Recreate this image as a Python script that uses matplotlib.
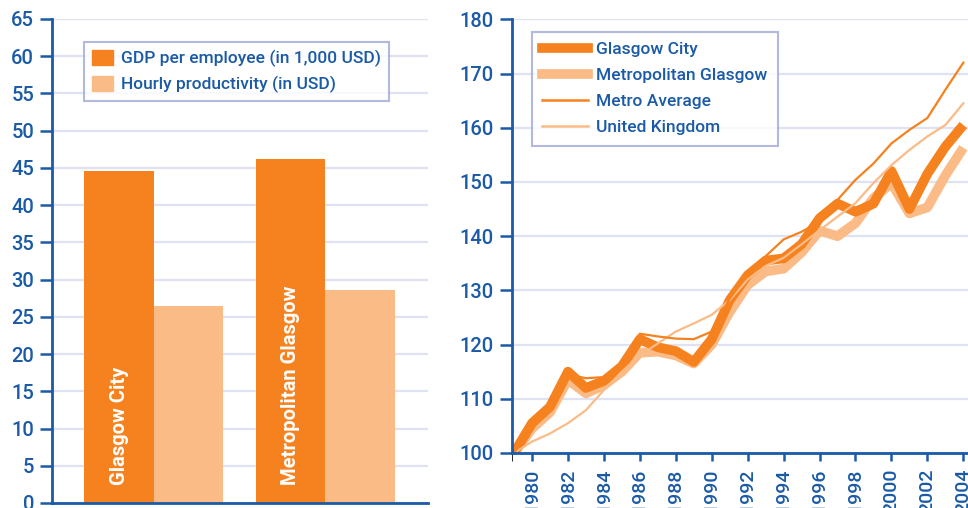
import matplotlib
matplotlib.use("Agg")
import matplotlib.pyplot as plt
from matplotlib.patches import Patch
from matplotlib.lines import Line2D

# bar chart data
places = ["Glasgow City", "Metropolitan Glasgow"]
gdp_per_employee = [44.6, 46.2]
hourly_productivity = [26.5, 28.6]
bar_labels = ["GDP per employee (in 1,000 USD)", "Hourly productivity (in USD)"]

# index 1979 = 100
years = list(range(1979, 2005))
glasgow_city = [100, 105.5, 108.5, 115, 112, 113.3, 116, 121, 119.5, 118.8, 116.8, 121,
                128.2, 132.8, 135.5, 135.9, 138.5, 143.3, 146, 144.5, 146, 152, 145,
                151.5, 156.5, 160.5]
metro_glasgow = [100, 104.5, 107.5, 113.5, 111, 112.5, 115, 118.5, 118.7, 118, 116.5, 120,
                 126, 131, 133.5, 134, 137, 141, 140, 142.4, 147, 149.8, 144.2, 145.3,
                 151.2, 156.3]
metro_average = [100, 105.5, 108.5, 114.5, 113.8, 114, 116.5, 122, 121.5, 121.1, 121, 122.4,
                 128.5, 133, 136.3, 139.4, 140.8, 142.7, 146.7, 150.4, 153.4, 157.1, 159.6,
                 161.8, 167, 172]
united_kingdom = [100, 102.1, 103.6, 105.5, 107.9, 111.6, 115, 118, 120.2, 122.4, 123.9,
                  125.5, 128.2, 132, 134.5, 136, 138.5, 141.1, 143.6, 146.1, 149.8, 153.1,
                  155.9, 158.4, 160.5, 164.5]
year_ticks = list(range(1980, 2005, 2))

DARK = "#f5821f"
LIGHT = "#fbbb87"
BLUE = "#1a5aa6"
GRID = "#dfe2f2"
EDGE = "#9ea8d8"

plt.rcParams["font.family"] = ["Roboto", "DejaVu Sans"]
plt.rcParams["font.weight"] = "medium"

fig = plt.figure(figsize=(9.68, 5.08), dpi=100)


def style_axes(ax):
    for s in ["top", "right"]:
        ax.spines[s].set_visible(False)
    for s in ["left", "bottom"]:
        ax.spines[s].set_color(BLUE)
        ax.spines[s].set_linewidth(2)
    ax.tick_params(colors=BLUE, labelcolor=BLUE, width=1.8, labelsize=14.5)
    ax.yaxis.grid(True, color=GRID, linewidth=1.6)
    ax.set_axisbelow(True)


# --- left: bars ---
ax1 = fig.add_axes([52 / 968, 5 / 508, 376 / 968, 484 / 508])
style_axes(ax1)
x = range(len(places))
w = 0.405
ax1.bar([i - w / 2 for i in x], gdp_per_employee, w, color=DARK)
ax1.bar([i + w / 2 for i in x], hourly_productivity, w, color=LIGHT)
for i, name in enumerate(places):
    ax1.text(i - w / 2, 2.4, name, rotation=90, color="white", fontsize=14.5,
             fontweight="bold", ha="center", va="bottom")
ax1.set_xlim(-0.594, 1.6)
ax1.set_ylim(0, 65)
ax1.set_yticks(range(0, 66, 5))
ax1.set_xticks([])
ax1.tick_params(axis="y", length=9, pad=4)
leg1 = ax1.legend([Patch(color=DARK), Patch(color=LIGHT)], bar_labels,
                  loc="upper left", bbox_to_anchor=(0.085, 0.953), borderaxespad=0,
                  fancybox=False, edgecolor=EDGE, labelcolor=BLUE, fontsize=12.5,
                  handlelength=1.25, handleheight=1.0, handletextpad=0.45,
                  labelspacing=0.5, borderpad=0.45)
leg1.get_frame().set_linewidth(1.5)

# --- right: index lines ---
ax2 = fig.add_axes([512 / 968, 55 / 508, 456 / 968, 433.7 / 508])
style_axes(ax2)
ax2.plot(years, metro_glasgow, color=LIGHT, lw=7, solid_capstyle="butt", solid_joinstyle="round")
ax2.plot(years, glasgow_city, color=DARK, lw=7, solid_capstyle="butt", solid_joinstyle="round")
ax2.plot(years, united_kingdom, color=LIGHT, lw=1.6)
ax2.plot(years, metro_average, color=DARK, lw=1.6)
x0 = 1980 - 20 / 17.96
ax2.set_xlim(x0, 2004.26)
ax2.set_ylim(100, 180)
ax2.set_yticks(range(100, 181, 10))
ax2.set_xticks(year_ticks)
ax2.set_xticks([x0], minor=True)
ax2.tick_params(axis="x", which="both", length=6, rotation=90, pad=5, labelsize=14)
ax2.tick_params(axis="y", length=9, pad=4)
handles = [Line2D([], [], color=DARK, lw=7), Line2D([], [], color=LIGHT, lw=7),
           Line2D([], [], color=DARK, lw=1.8), Line2D([], [], color=LIGHT, lw=1.8)]
leg2 = ax2.legend(handles, ["Glasgow City", "Metropolitan Glasgow", "Metro Average", "United Kingdom"],
                  loc="upper left", bbox_to_anchor=(0.044, 0.971), borderaxespad=0,
                  fancybox=False, edgecolor=EDGE, labelcolor=BLUE, fontsize=12.5,
                  handlelength=2.6, handletextpad=0.5, labelspacing=0.62, borderpad=0.6)
leg2.get_frame().set_linewidth(1.5)

fig.savefig("out.png", dpi=100)
